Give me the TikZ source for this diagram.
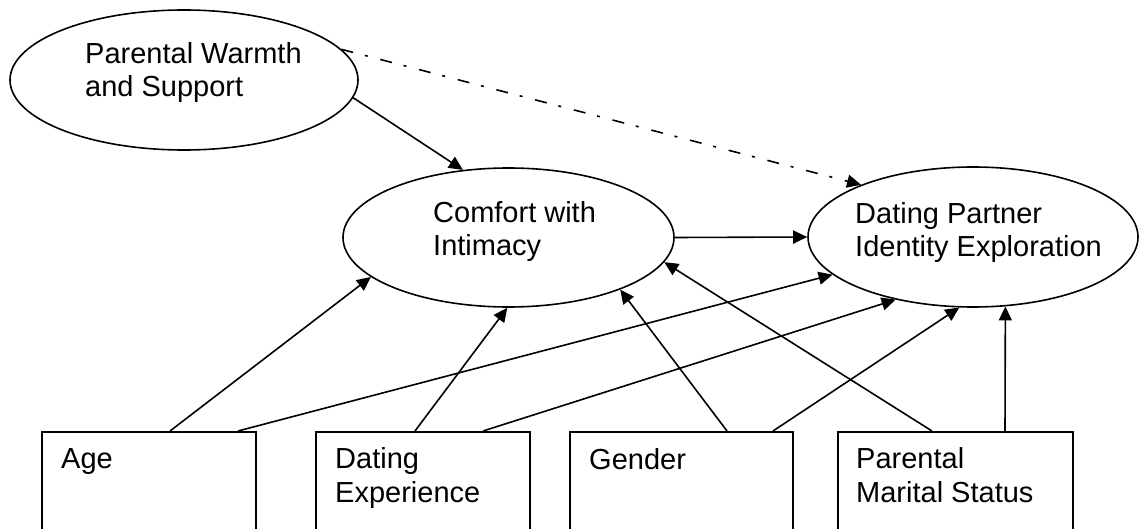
\documentclass[tikz,border=0pt]{standalone}
\usepackage{fontspec}
\setmainfont{Liberation Sans}
\usetikzlibrary{shapes.geometric,arrows.meta}
\tikzset{
  lat/.style={draw, ellipse, inner sep=0pt, line width=1.6pt},
  obs/.style={draw, rectangle, inner sep=0pt, line width=1.6pt, anchor=north west, minimum height=150pt},
  txt/.style={inner sep=0pt, anchor=base west, font=\fontsize{29}{33}\selectfont},
  link/.style={line width=1.6pt, -{Triangle[length=14pt,width=13pt]}},
  duallink/.style={link, dash pattern=on 12pt off 12pt on 3pt off 13pt},
}
\begin{document}
\begin{tikzpicture}[x=1pt,y=-1pt]
\clip (0,0) rectangle (1141,529);

% latent constructs
\node[lat, minimum width=348pt, minimum height=140pt] (pw) at (184,80) {};
\node[lat, minimum width=331pt, minimum height=139pt] (cwi) at (508.5,237.5) {};
\node[lat, minimum width=330pt, minimum height=140pt] (dpie) at (973,237) {};

% observed covariates (boxes run past the lower edge)
\node[obs, minimum width=214pt] (age) at (41,431) {};
\node[obs, minimum width=214pt] (dex) at (315,431) {};
\node[obs, minimum width=223pt] (gen) at (569,431) {};
\node[obs, minimum width=235pt] (pms) at (837,431) {};

% labels
\node[txt] (pwa) at (85,64) {Parental Warmth};
\node[txt] (pwb) at (85,97) {and Support};
\node[txt] (cwa) at (433,223) {Comfort with};
\node[txt] (cwb) at (433,256) {Intimacy};
\node[txt] (dpa) at (855,224) {Dating Partner};
\node[txt] (dpb) at (855,257) {Identity Exploration};
\node[txt] (agea) at (61,468) {Age};
\node[txt] (dea) at (335,468) {Dating};
\node[txt] (deb) at (335,502) {Experience};
\node[txt] (gena) at (589,469) {Gender};
\node[txt] (pmsa) at (856,468) {Parental};
\node[txt] (pmsb) at (856,502) {Marital Status};

% paths
\draw[link] (pw.354) -- (cwi.124);
\draw[duallink] (pw.11) -- (dpie.155);
\draw[link] (cwi.east) -- (dpie.west);
\draw[link] ([xshift=129pt]age.north west) -- (cwi.196);
\draw[link] ([xshift=197pt]age.north west) -- (dpie.195);
\draw[link] ([xshift=100pt]dex.north west) -- (cwi.269);
\draw[link] ([xshift=168pt]dex.north west) -- (dpie.219);
\draw[link] ([xshift=158pt]gen.north west) -- (cwi.335);
\draw[link] ([xshift=204pt]gen.north west) -- (dpie.259);
\draw[link] ([xshift=95pt]pms.north west) -- (cwi.351);
\draw[link] ([xshift=168pt]pms.north west) -- (dpie.295);
\end{tikzpicture}
\end{document}
